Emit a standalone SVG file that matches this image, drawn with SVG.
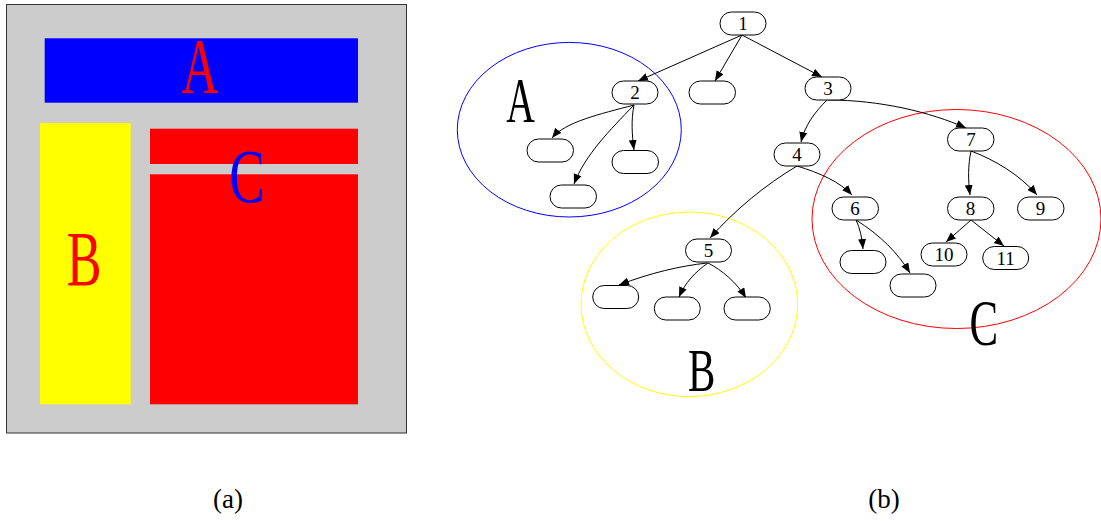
<svg xmlns="http://www.w3.org/2000/svg" width="1101" height="521" viewBox="0 0 1101 521">
<style>
.node rect{fill:#fff;stroke:#000;stroke-width:1}
.node text,.lbl{font-family:"Liberation Serif",serif;font-size:19px;fill:#000;text-anchor:middle}
.big{font-family:"Liberation Serif",serif;text-anchor:middle}
.edges path{fill:none;stroke:#000;stroke-width:1;marker-end:url(#ah)}
.cap{font-family:"Liberation Serif",serif;font-size:27px;text-anchor:middle;fill:#000}
</style>
<defs>
<marker id="ah" markerUnits="userSpaceOnUse" markerWidth="11" markerHeight="9" refX="10" refY="4" orient="auto" viewBox="0 0 11 9">
<path d="M0,0 L10,4 L0,8 Z" fill="#000"/>
</marker>
</defs>
<rect width="1101" height="521" fill="#fff"/>
<g id="panel-a">
<rect x="6.5" y="4.5" width="400" height="428.5" fill="#ccc" stroke="#333" stroke-width="1"/>
<rect x="44.7" y="38.3" width="313.3" height="64.4" fill="#00f"/>
<rect x="40" y="123" width="90.7" height="281.3" fill="#ff0"/>
<rect x="150" y="128.7" width="208" height="35.3" fill="#f00"/>
<rect x="150" y="174.3" width="208" height="230" fill="#f00"/>
<text class="big" font-size="78" fill="#f00" transform="translate(200,92.3) scale(0.66,1)">A</text>
<text class="big" font-size="78" fill="#f00" transform="translate(84.2,285) scale(0.67,1)">B</text>
<text class="big" font-size="76" fill="#00f" transform="translate(247,201.5) scale(0.7,1)">C</text>
</g>
<g id="clusters">
<ellipse cx="569.3" cy="129.7" rx="112" ry="87.3" fill="none" stroke="#00f" stroke-width="1"/>
<ellipse cx="689.3" cy="304.3" rx="108.3" ry="92.3" fill="none" stroke="#ff0" stroke-width="1"/>
<ellipse cx="956.5" cy="219" rx="144.5" ry="109.5" fill="none" stroke="#f00" stroke-width="1"/>
<text class="big" font-size="64" fill="#000" transform="translate(520.5,122) scale(0.62,1)">A</text>
<text class="big" font-size="62" fill="#000" transform="translate(701.7,391) scale(0.66,1)">B</text>
<text class="big" font-size="65" fill="#000" transform="translate(983.8,345) scale(0.66,1)">C</text>
</g>
<g id="edges" class="edges">
<path d="M742,35 L638,81"/>
<path d="M742,35 L715,81"/>
<path d="M742,35 L822,77"/>
<path d="M634,105 C600,114 565,122 552,138"/>
<path d="M634,105 C610,130 585,155 574,184"/>
<path d="M634,105 C631,120 632,135 634,150"/>
<path d="M827,100 C815,112 805,125 801,142"/>
<path d="M828,100 C880,100 930,112 966,128"/>
<path d="M797,166 C765,185 735,210 710,238"/>
<path d="M797,166 C820,173 840,182 852,195"/>
<path d="M971,151 C968,165 968,180 970,195"/>
<path d="M971,151 C995,160 1020,175 1037,195"/>
<path d="M971,220 L946,242"/>
<path d="M971,220 L1004,246"/>
<path d="M856,220 C860,228 862,238 863,249"/>
<path d="M856,220 C880,235 898,253 910,273"/>
<path d="M707,263 C680,266 650,273 619,285"/>
<path d="M708,263 C695,272 685,283 679,297"/>
<path d="M708,263 C722,270 737,283 746,298"/>
</g>
<g id="n1" class="node"><rect x="720" y="12" width="46" height="23" rx="11.5"/><text x="743" y="30">1</text></g>
<g id="n2" class="node"><rect x="612" y="81" width="46" height="23" rx="11.5"/><text x="635" y="99">2</text></g>
<g id="n1b" class="node"><rect x="689" y="81" width="46.5" height="23" rx="11.5"/></g>
<g id="n3" class="node"><rect x="805" y="77" width="46" height="23" rx="11.5"/><text x="828" y="95">3</text></g>
<g id="n2a" class="node"><rect x="527" y="139" width="46.5" height="23" rx="11.5"/></g>
<g id="n2b" class="node"><rect x="612" y="150.5" width="46.5" height="23" rx="11.5"/></g>
<g id="n2c" class="node"><rect x="550" y="185" width="46.5" height="23" rx="11.5"/></g>
<g id="n4" class="node"><rect x="774" y="143" width="46" height="23" rx="11.5"/><text x="797" y="161">4</text></g>
<g id="n7" class="node"><rect x="947.5" y="128" width="46.5" height="23" rx="11.5"/><text x="971" y="146">7</text></g>
<g id="n6" class="node"><rect x="832" y="197" width="46.5" height="23" rx="11.5"/><text x="855" y="215">6</text></g>
<g id="n8" class="node"><rect x="947.5" y="197" width="46.5" height="23" rx="11.5"/><text x="970.5" y="215">8</text></g>
<g id="n9" class="node"><rect x="1017.5" y="197" width="46.5" height="23" rx="11.5"/><text x="1040.5" y="215">9</text></g>
<g id="n10" class="node"><rect x="921" y="243" width="46" height="23" rx="11.5"/><text x="944" y="261">10</text></g>
<g id="n11" class="node"><rect x="982.7" y="246.5" width="46" height="23" rx="11.5"/><text x="1005.7" y="264.5">11</text></g>
<g id="n6a" class="node"><rect x="840" y="250.5" width="46" height="23" rx="11.5"/></g>
<g id="n6b" class="node"><rect x="890" y="274" width="46" height="23" rx="11.5"/></g>
<g id="n5" class="node"><rect x="685.5" y="239" width="46" height="23" rx="11.5"/><text x="708.5" y="257">5</text></g>
<g id="n5a" class="node"><rect x="592.7" y="285.5" width="46" height="23" rx="11.5"/></g>
<g id="n5b" class="node"><rect x="654.3" y="297" width="46" height="23" rx="11.5"/></g>
<g id="n5c" class="node"><rect x="724" y="297" width="46.3" height="23" rx="11.5"/></g>
<g id="captions">
<text class="cap" x="228" y="508">(a)</text>
<text class="cap" x="884" y="508">(b)</text>
</g>
</svg>
